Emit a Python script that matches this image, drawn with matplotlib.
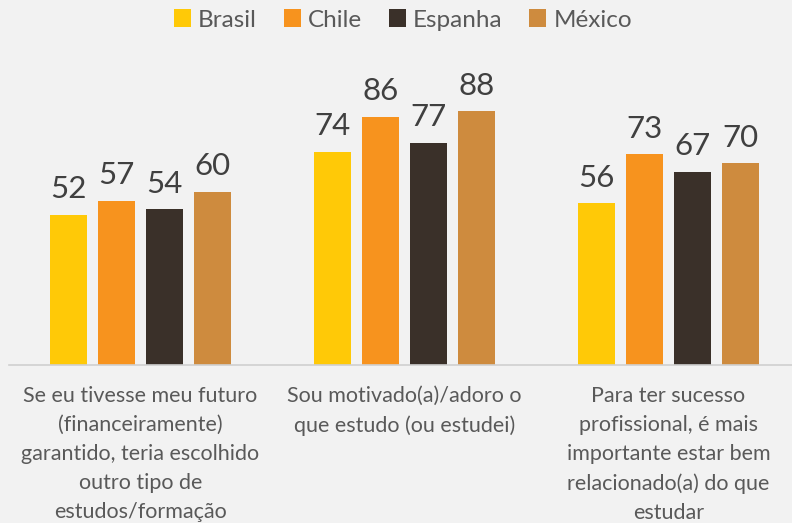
import numpy as np
import matplotlib.pyplot as plt

# Chart data
categories = [
    "Se eu tivesse meu futuro\n(financeiramente)\ngarantido, teria escolhido\noutro tipo de\nestudos/formação",
    "Sou motivado(a)/adoro o\nque estudo (ou estudei)",
    "Para ter sucesso\nprofissional, é mais\nimportante estar bem\nrelacionado(a) do que\nestudar",
]
countries = ["Brasil", "Chile", "Espanha", "México"]
brasil = [52, 74, 56]
chile = [57, 86, 73]
espanha = [54, 77, 67]
mexico = [60, 88, 70]

colors = ["#FFC907", "#F7931E", "#3A3029", "#CE8B3E"]
bg = "#F2F2F2"
text_color = "#595959"

plt.rcParams["font.family"] = ["Lato", "DejaVu Sans"]

fig = plt.figure(figsize=(7.92, 5.23), dpi=100, facecolor=bg)
ax = fig.add_axes([8.5 / 792, 158 / 523, 792 / 792, 288.5 / 523])
ax.set_facecolor(bg)

x = np.arange(len(categories))
width = 0.14
step = 0.182
series = [brasil, chile, espanha, mexico]
for i, (name, vals) in enumerate(zip(countries, series)):
    offs = (i - 1.5) * step
    bars = ax.bar(x + offs, vals, width, color=colors[i], label=name)
    for b, v in zip(bars, vals):
        ax.text(b.get_x() + b.get_width() / 2, v + 4, str(v),
                ha="center", va="bottom", fontsize=22.5, color="#404040")

ax.set_xlim(-0.5, 2.5)
ax.set_ylim(0, 100)
ax.set_yticks([])
ax.set_xticks(x)
ax.set_xticklabels(categories, fontsize=15.5, color=text_color, linespacing=1.56)
ax.tick_params(axis="x", length=0, pad=15)
for s in ["top", "right", "left"]:
    ax.spines[s].set_visible(False)
ax.spines["bottom"].set_color("#D0D0D0")
ax.spines["bottom"].set_linewidth(1.2)

leg = fig.legend(loc="center", bbox_to_anchor=(403 / 792, 1 - 20 / 523), ncol=4,
                 frameon=False, fontsize=17.5, handlelength=0.7, handleheight=0.7,
                 handletextpad=0.3, columnspacing=1.1)
for t in leg.get_texts():
    t.set_color(text_color)

fig.savefig("out.png", dpi=100, facecolor=bg)
